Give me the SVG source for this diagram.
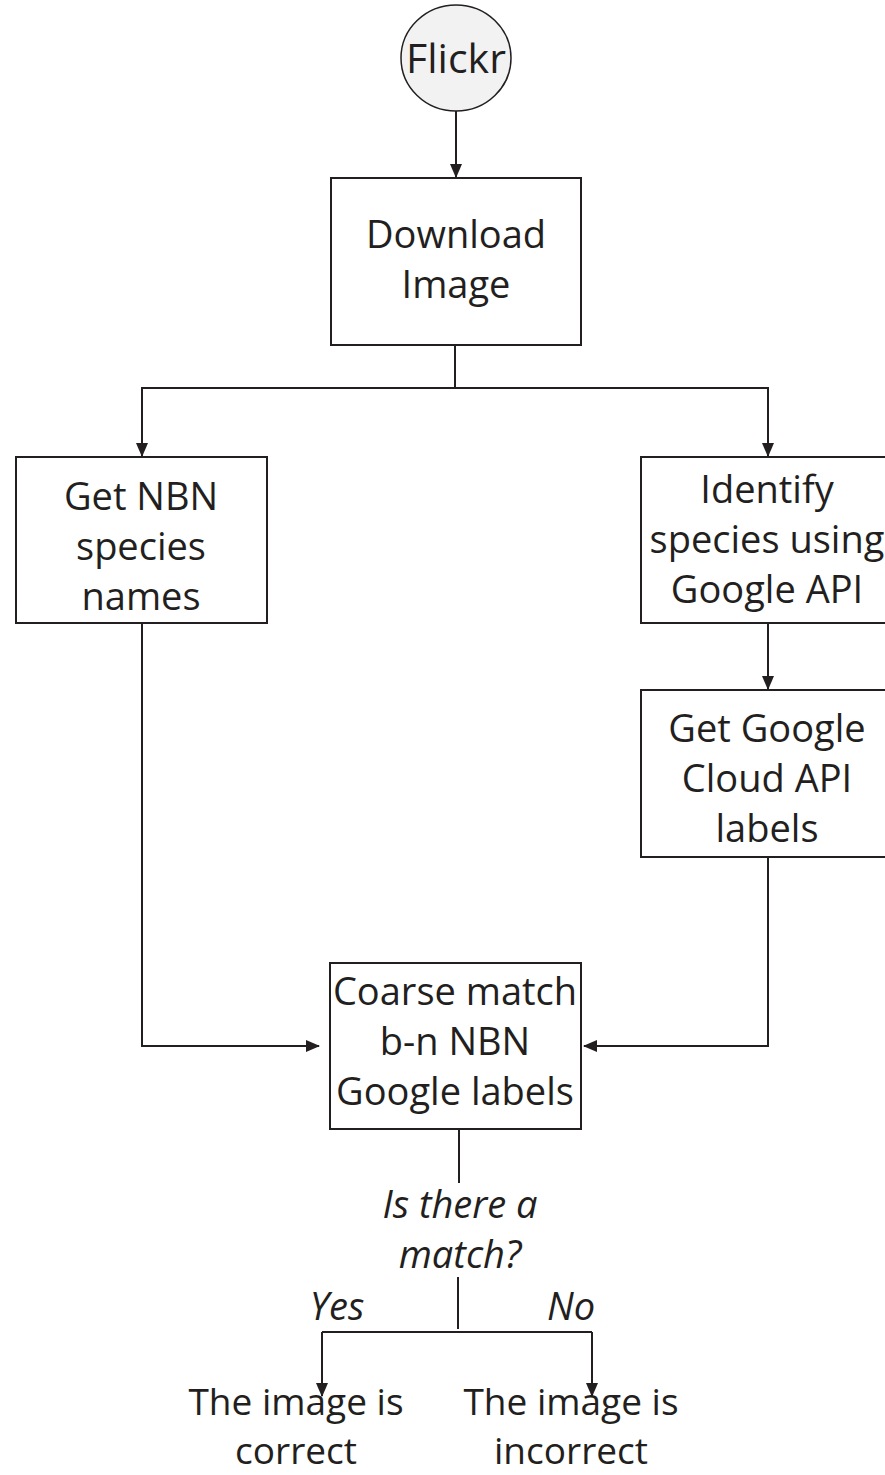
<svg xmlns="http://www.w3.org/2000/svg" width="885" height="1475" viewBox="0 0 885 1475">
<defs>
<marker id="ah" markerWidth="14" markerHeight="12" refX="13" refY="6" orient="auto" markerUnits="userSpaceOnUse">
<path d="M0,0 L14,6 L0,12 Z" fill="#231f20"/>
</marker>
<style>
.box{fill:#fff;stroke:#231f20;stroke-width:2}
.t{font-family:"Open Sans",sans-serif;font-size:38px;fill:#231f20;text-anchor:middle}
.i{font-style:italic}
.b{font-size:37px}
.c{fill:none;stroke:#231f20;stroke-width:2}
</style>
</defs>
<rect width="885" height="1475" fill="#fff"/>
<g id="connectors">
<path class="c" d="M456,111 V177" marker-end="url(#ah)"/>
<path class="c" d="M455,345 V388 H142 V456" marker-end="url(#ah)"/>
<path class="c" d="M455,388 H768 V456" marker-end="url(#ah)"/>
<path class="c" d="M768,623 V689" marker-end="url(#ah)"/>
<path class="c" d="M142,623 V1046 H319" marker-end="url(#ah)"/>
<path class="c" d="M768,857 V1046 H584" marker-end="url(#ah)"/>
<path class="c" d="M459,1129 V1183"/>
<path class="c" d="M458,1277 V1329"/>
<path class="c" d="M322,1332 H592"/>
<path class="c" d="M322,1332 V1396" marker-end="url(#ah)"/>
<path class="c" d="M592,1332 V1396" marker-end="url(#ah)"/>
</g>
<g id="flickr">
<ellipse cx="456" cy="58" rx="55" ry="53" fill="#f2f2f2" stroke="#231f20" stroke-width="1.5"/>
<text class="t" x="456" y="73" style="font-size:41px">Flickr</text>
</g>
<g id="download">
<rect class="box" x="331" y="178" width="250" height="167"/>
<text class="t" x="456" y="248">Download</text>
<text class="t" x="456" y="298">Image</text>
</g>
<g id="nbn">
<rect class="box" x="16" y="457" width="251" height="166"/>
<text class="t" x="141" y="510">Get NBN</text>
<text class="t" x="141" y="560">species</text>
<text class="t" x="141" y="610">names</text>
</g>
<g id="identify">
<rect class="box" x="641" y="457" width="250" height="166"/>
<text class="t" x="767" y="503">Identify</text>
<text class="t" x="767" y="553">species using</text>
<text class="t" x="767" y="603">Google API</text>
</g>
<g id="cloud">
<rect class="box" x="641" y="690" width="250" height="167"/>
<text class="t" x="767" y="742">Get Google</text>
<text class="t" x="767" y="792">Cloud API</text>
<text class="t" x="767" y="842">labels</text>
</g>
<g id="coarse">
<rect class="box" x="330" y="963" width="251" height="166"/>
<text class="t" x="455" y="1005">Coarse match</text>
<text class="t" x="455" y="1055">b-n NBN</text>
<text class="t" x="455" y="1105">Google labels</text>
</g>
<g id="decision">
<text class="t i" x="460" y="1218">Is there a</text>
<text class="t i" x="460" y="1268">match?</text>
<text class="t i" x="337" y="1320">Yes</text>
<text class="t i" x="571" y="1320">No</text>
</g>
<g id="correct">
<text class="t b" x="296" y="1415">The image is</text>
<text class="t b" x="296" y="1464">correct</text>
</g>
<g id="incorrect">
<text class="t b" x="571" y="1415">The image is</text>
<text class="t b" x="571" y="1464">incorrect</text>
</g>
</svg>
